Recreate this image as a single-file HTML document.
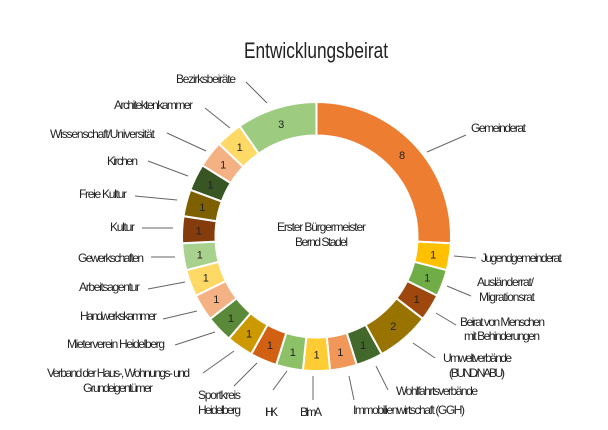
<!DOCTYPE html>
<html><head><meta charset="utf-8"><style>
html,body{margin:0;padding:0;background:#fff;width:608px;height:430px;overflow:hidden}
svg text{font-family:"Liberation Sans Narrow","Liberation Sans",sans-serif;fill:#222}
</style></head><body>
<svg id="s" width="608" height="430" viewBox="0 0 608 430" xmlns="http://www.w3.org/2000/svg">
<text x="316" y="58" font-size="22" text-anchor="middle" textLength="144" lengthAdjust="spacingAndGlyphs">Entwicklungsbeirat</text>
<g id="segs"></g>
<g stroke="#666" stroke-width="1" fill="none">
<line x1="246" y1="82" x2="267" y2="103"/><line x1="205" y1="108" x2="230" y2="128"/>
<line x1="167" y1="133" x2="206" y2="151"/><line x1="148" y1="161" x2="188" y2="176"/>
<line x1="135" y1="196" x2="177" y2="200"/><line x1="142" y1="228" x2="173" y2="228"/>
<line x1="151" y1="257" x2="175" y2="257"/><line x1="148" y1="289" x2="185" y2="282"/>
<line x1="163" y1="319" x2="197" y2="311"/><line x1="175" y1="345" x2="215" y2="332"/>
<line x1="203" y1="373" x2="234" y2="351"/><line x1="234" y1="386" x2="257" y2="363"/>
<line x1="273" y1="390" x2="287" y2="371"/><line x1="427" y1="152" x2="466" y2="135"/>
<line x1="454" y1="256" x2="476" y2="258"/><line x1="447" y1="286" x2="471" y2="296"/>
<line x1="436" y1="313" x2="456" y2="325"/><line x1="413" y1="343" x2="435" y2="358"/>
<line x1="376" y1="366" x2="388" y2="390"/><line x1="349" y1="376" x2="354" y2="400"/>
<line x1="313" y1="376" x2="313" y2="400"/>
</g>
<g font-size="12" lengthAdjust="spacingAndGlyphs">
<text x="176" y="83" textLength="60">Bezirksbeiräte</text>
<text x="114" y="109" textLength="79">Architektenkammer</text>
<text x="50" y="138" textLength="105">Wissenschaft/Universität</text>
<text x="107" y="165" textLength="31">Kirchen</text>
<text x="79" y="198" textLength="48">Freie Kultur</text>
<text x="110" y="231" textLength="25">Kultur</text>
<text x="78" y="262" textLength="66">Gewerkschaften</text>
<text x="79" y="291" textLength="61">Arbeitsagentur</text>
<text x="80" y="320" textLength="77">Handwerkskammer</text>
<text x="67" y="348" textLength="98">Mieterverein Heidelberg</text>
<text x="47" y="377" textLength="143">Verband der Haus-, Wohnungs- und</text>
<text x="83" y="392" textLength="70">Grundeigentümer</text>
<text x="198" y="399" textLength="43">Sportkreis</text>
<text x="198" y="414" textLength="43">Heidelberg</text>
<text x="265" y="416" textLength="13">IHK</text>
<text x="300" y="416" textLength="22">BImA</text>
<text x="353" y="414" textLength="112">Immobilienwirtschaft (GGH)</text>
<text x="396" y="395" textLength="82">Wohlfahrtsverbände</text>
<text x="443" y="362" textLength="69">Umweltverbände</text>
<text x="449" y="377" textLength="56">(BUND/NABU)</text>
<text x="460" y="326" textLength="85">Beirat von Menschen</text>
<text x="464" y="340" textLength="76">mit Behinderungen</text>
<text x="477" y="286" textLength="57">Ausländerrat/</text>
<text x="479" y="301" textLength="56">Migrationsrat</text>
<text x="481" y="262" textLength="81">Jugendgemeinderat</text>
<text x="471" y="132" textLength="55">Gemeinderat</text>
<text x="277" y="231" textLength="89">Erster Bürgermeister</text>
<text x="295" y="246" textLength="53">Bernd Stadel</text>
</g>
</svg>
<script>
var d=[[8,"#ED7D31"],[1,"#FFC000"],[1,"#70AD47"],[1,"#9E480E"],[2,"#997300"],[1,"#43682B"],[1,"#F1975A"],[1,"#FFCD33"],[1,"#8CC168"],[1,"#D26012"],[1,"#CC9A00"],[1,"#5A8A39"],[1,"#F4B183"],[1,"#FFD966"],[1,"#A9D18E"],[1,"#843C0C"],[1,"#7F6000"],[1,"#375623"],[1,"#F4B183"],[1,"#FFD966"],[3,"#9DCB7F"]];
var cx=316.5,cy=236.5,R=134.5,r=101,tot=31,a=0,g=document.getElementById("segs"),h="";
function p(rad,ang){var t=ang/tot*2*Math.PI;return [(cx+rad*Math.sin(t)).toFixed(2),(cy-rad*Math.cos(t)).toFixed(2)];}
d.forEach(function(s){var a2=a+s[0],l=s[0]>tot/2?1:0,A=p(R,a),B=p(R,a2),C=p(r,a2),D=p(r,a);
h+='<path d="M'+A+' A'+R+' '+R+' 0 '+l+' 1 '+B+' L'+C+' A'+r+' '+r+' 0 '+l+' 0 '+D+'Z" fill="'+s[1]+'" stroke="#fff" stroke-width="2"/>';
var m=p(118,(a+a2)/2);h+='<text x="'+m[0]+'" y="'+(+m[1]+4)+'" font-size="11" text-anchor="middle">'+s[0]+'</text>';a=a2;});
g.innerHTML=h;
</script>
</body></html>
